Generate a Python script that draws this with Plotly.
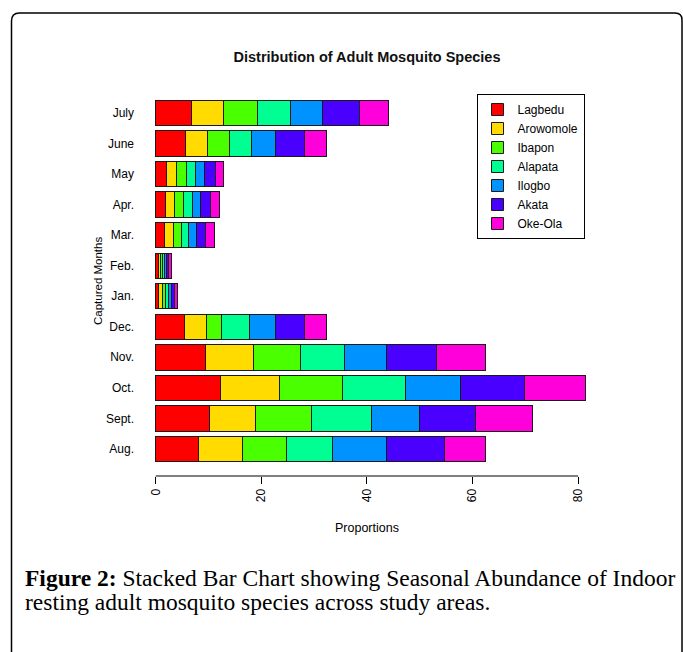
import plotly.graph_objects as go

# ---- data ----
months = ["Aug.", "Sept.", "Oct.", "Nov.", "Dec.", "Jan.", "Feb.",
          "Mar.", "Apr.", "May", "June", "July"]
species = ["Lagbedu", "Arowomole", "Ibapon", "Alapata", "Ilogbo", "Akata", "Oke-Ola"]
lagbedu   = [8.1, 10.1, 12.2, 9.5, 5.4, 0.60, 0.45, 1.60, 1.9, 2.0, 5.7, 6.7]
arowomole = [8.4, 8.8, 11.2, 9.0, 4.2, 0.60, 0.40, 1.70, 1.7, 1.9, 4.1, 6.1]
ibapon    = [8.2, 10.6, 11.9, 9.0, 2.8, 0.60, 0.40, 1.60, 1.6, 2.0, 4.2, 6.5]
alapata   = [8.8, 11.3, 12.0, 8.3, 5.3, 0.60, 0.40, 1.25, 1.7, 1.6, 4.2, 6.2]
ilogbo    = [10.2, 9.1, 10.5, 7.9, 4.9, 0.60, 0.40, 1.60, 1.5, 1.8, 4.4, 6.1]
akata     = [10.9, 10.7, 12.1, 9.5, 5.6, 0.60, 0.45, 1.70, 1.9, 2.0, 5.6, 7.0]
okeola    = [7.8, 10.8, 11.5, 9.2, 4.2, 0.55, 0.40, 1.60, 1.7, 1.5, 4.2, 5.4]
series = [lagbedu, arowomole, ibapon, alapata, ilogbo, akata, okeola]
colors = ["#FF0000", "#FFDB00", "#49FF00", "#00FF92", "#0092FF", "#4900FF", "#FF00DB"]
x_ticks = [0, 20, 40, 60, 80]

title_text = "Distribution of Adult Mosquito Species"
x_title = "Proportions"
y_title = "Captured Months"
caption_bold = "Figure 2:"
caption_1 = " Stacked Bar Chart showing Seasonal Abundance of Indoor"
caption_2 = "resting adult mosquito species across study areas."

# ---- layout geometry ----
W, H = 683, 652
ML, MR, MT, MB = 138, 80, 86, 176
PW, PH = W - ML - MR, H - MT - MB

def px(x):
    return (x - ML) / PW

def py(y):
    return (H - MB - y) / PH

SANS = "Liberation Sans, Arial, Helvetica, sans-serif"
SERIF = "Liberation Serif, Times New Roman, serif"

fig = go.Figure()
for name, vals, col in zip(species, series, colors):
    fig.add_trace(go.Bar(
        y=months, x=vals, name=name, orientation="h",
        marker=dict(color=col, line=dict(color="#1a1a1a", width=1)),
    ))

shapes = [
    # x-axis line from first to last tick (R style)
    dict(type="line", xref="x", yref="paper", x0=x_ticks[0], x1=x_ticks[-1],
         y0=0, y1=0, line=dict(color="black", width=1)),
    # rounded frame around the figure
    dict(type="path", xref="paper", yref="paper",
         path=(f"M {px(11.5)},{py(660)} L {px(11.5)},{py(21)} "
               f"Q {px(11.5)},{py(13)} {px(19.5)},{py(13)} "
               f"L {px(675)},{py(13)} Q {px(682)},{py(13)} {px(682)},{py(20)} "
               f"L {px(682)},{py(660)}"),
         line=dict(color="black", width=1.5)),
]

annotations = [
    dict(text=x_title, xref="paper", yref="paper", x=px(367), y=py(528),
         showarrow=False, font=dict(family=SANS, size=12.5, color="black"),
         xanchor="center", yanchor="middle"),
    dict(text=y_title, xref="paper", yref="paper", x=px(98), y=py(281),
         showarrow=False, textangle=-90, font=dict(family=SANS, size=11.5, color="black"),
         xanchor="center", yanchor="middle"),
    dict(text=f"<b>{caption_bold}</b>{caption_1}", xref="paper", yref="paper",
         x=px(23), y=py(578), showarrow=False, xanchor="left", yanchor="middle",
         font=dict(family=SERIF, size=23.5, color="black")),
    dict(text=caption_2, xref="paper", yref="paper",
         x=px(23), y=py(602), showarrow=False, xanchor="left", yanchor="middle",
         font=dict(family=SERIF, size=23.5, color="black")),
]

fig.update_layout(
    width=W, height=H,
    margin=dict(l=ML, r=MR, t=MT, b=MB, autoexpand=False),
    paper_bgcolor="white", plot_bgcolor="white",
    barmode="stack", bargap=0.2 / 1.2,
    title=dict(text=f"<b>{title_text}</b>", x=px(367), xanchor="center",
               y=1 - 57 / H, yanchor="middle", xref="paper",
               font=dict(family=SANS, size=14.5, color="#111")),
    xaxis=dict(range=[-3.35, 84.7], tickvals=x_ticks, ticktext=[str(v) for v in x_ticks],
               tickangle=-90, ticks="outside", ticklen=7, tickcolor="black",
               showline=False, showgrid=False, zeroline=False,
               tickfont=dict(family=SANS, size=12, color="black")),
    yaxis=dict(type="category", categoryorder="array", categoryarray=months,
               range=[-0.89, 11.89], showgrid=False, zeroline=False, showline=False,
               ticks="", ticklabelstandoff=3,
               tickfont=dict(family=SANS, size=12, color="black")),
    legend=dict(x=px(476.5), y=py(94), xanchor="left", yanchor="top",
                bgcolor="white", bordercolor="black", borderwidth=1,
                font=dict(family=SANS, size=12, color="black"),
                tracegroupgap=0, traceorder="normal"),
    shapes=shapes, annotations=annotations,
)

fig.write_html("out.html", config={"displayModeBar": False},
               post_script="document.body.style.margin='0';")
